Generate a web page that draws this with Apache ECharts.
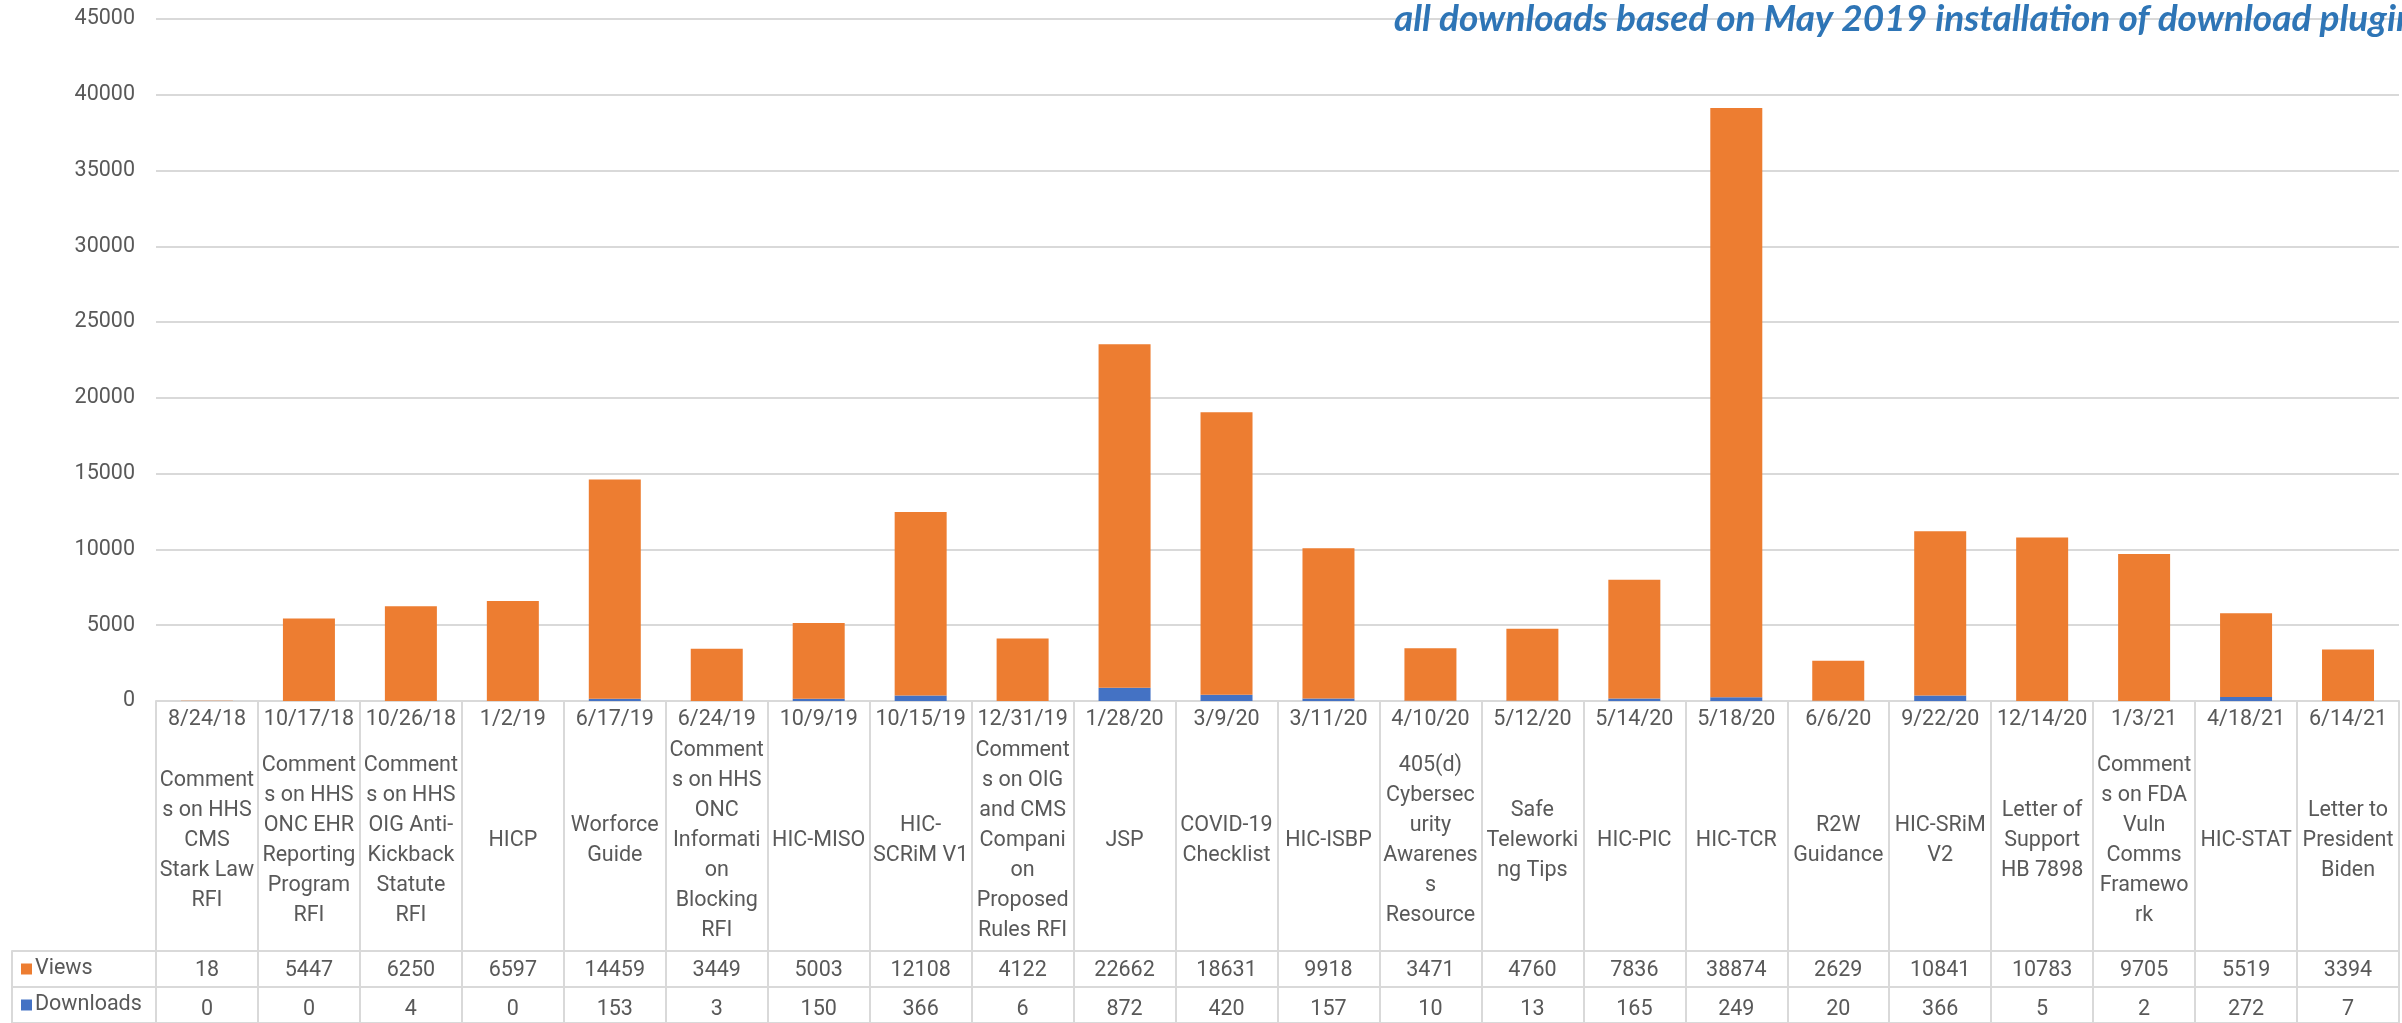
<!DOCTYPE html>
<html><head><meta charset="utf-8">
<script src="https://cdn.jsdelivr.net/npm/echarts@6/dist/echarts.min.js"></script>
<style>html,body{margin:0;padding:0;background:#fff}#c{width:2402px;height:1023px}</style>
</head><body><div id="c"></div>
<script>
const dates = ['8/24/18','10/17/18','10/26/18','1/2/19','6/17/19','6/24/19','10/9/19','10/15/19','12/31/19','1/28/20','3/9/20','3/11/20','4/10/20','5/12/20','5/14/20','5/18/20','6/6/20','9/22/20','12/14/20','1/3/21','4/18/21','6/14/21'];
const names = [
  'Comment\ns on HHS\nCMS\nStark Law\nRFI',
  'Comment\ns on HHS\nONC EHR\nReporting\nProgram\nRFI',
  'Comment\ns on HHS\nOIG Anti-\nKickback\nStatute\nRFI',
  'HICP',
  'Worforce\nGuide',
  'Comment\ns on HHS\nONC\nInformati\non\nBlocking\nRFI',
  'HIC-MISO',
  'HIC-\nSCRiM V1',
  'Comment\ns on OIG\nand CMS\nCompani\non\nProposed\nRules RFI',
  'JSP',
  'COVID-19\nChecklist',
  'HIC-ISBP',
  '405(d)\nCybersec\nurity\nAwarenes\ns\nResource',
  'Safe\nTeleworki\nng Tips',
  'HIC-PIC',
  'HIC-TCR',
  'R2W\nGuidance',
  'HIC-SRiM\nV2',
  'Letter of\nSupport\nHB 7898',
  'Comment\ns on FDA\nVuln\nComms\nFramewo\nrk',
  'HIC-STAT',
  'Letter to\nPresident\nBiden'
];
const views = [18,5447,6250,6597,14459,3449,5003,12108,4122,22662,18631,9918,3471,4760,7836,38874,2629,10841,10783,9705,5519,3394];
const downloads = [0,0,4,0,153,3,150,366,6,872,420,157,10,13,165,249,20,366,5,2,272,7];
const rowNames = ['Views','Downloads'];
const titleText = 'all downloads based on May 2019 installation of download plugin';

const FONT = 'Roboto';
const TXT = '#595959';
const LINE = '#D9D9D9';
const ORANGE = '#ED7D31';
const BLUE = '#4472C4';
const L = 156, R = 3;
const txt = {color: TXT, fontSize: 21.5, fontFamily: FONT};

const chart = echarts.init(document.getElementById('c'));
chart.setOption({
  animation: false,
  backgroundColor: '#fff',
  title: {
    text: titleText, left: 1394, top: 1, padding: 0,
    textStyle: {color: '#2E75B6', fontStyle: 'italic', fontWeight: 'bold', fontSize: 37, fontFamily: 'Lato'}
  },
  grid: [
    {left: L, right: R, top: 19, height: 682},
    {left: L, right: R, top: 701, height: 250},
    {left: L, right: R, top: 951, height: 78},
    {left: 12, width: 144, top: 951, height: 78}
  ],
  xAxis: [
    {gridIndex: 0, type: 'category', data: dates,
     axisLine: {lineStyle: {color: LINE, width: 2}}, axisTick: {show: false},
     axisLabel: Object.assign({interval: 0, margin: 8}, txt)},
    {gridIndex: 1, type: 'category', data: names, position: 'top',
     axisLine: {show: false}, axisTick: {show: false},
     splitLine: {show: true, interval: 0, lineStyle: {color: LINE, width: 2}},
     axisLabel: Object.assign({interval: 0, margin: -140, verticalAlign: 'middle', lineHeight: 30}, txt)},
    {gridIndex: 2, type: 'category', data: names, position: 'top',
     axisLine: {show: true, lineStyle: {color: LINE, width: 2}}, axisTick: {show: false},
     splitLine: {show: true, interval: 0, lineStyle: {color: LINE, width: 2}},
     axisLabel: Object.assign({interval: 0, margin: -19.5, verticalAlign: 'middle', formatter: (v, i) => String(views[i])}, txt)},
    {gridIndex: 2, type: 'category', data: names, position: 'top',
     axisLine: {show: false}, axisTick: {show: false},
     axisLabel: Object.assign({interval: 0, margin: -58.5, verticalAlign: 'middle', formatter: (v, i) => String(downloads[i])}, txt)},
    {gridIndex: 3, type: 'value', show: false, min: 0, max: 1}
  ],
  yAxis: [
    {gridIndex: 0, type: 'value', min: 0, max: 45000, interval: 5000,
     axisLine: {show: false}, axisTick: {show: false},
     splitLine: {lineStyle: {color: LINE, width: 2}},
     axisLabel: Object.assign({margin: 21, formatter: v => String(v)}, txt)},
    {gridIndex: 1, type: 'value', show: false, min: 0, max: 1},
    {gridIndex: 2, type: 'category', data: rowNames, inverse: true,
     axisLine: {show: false}, axisTick: {show: false}, axisLabel: {show: false},
     splitLine: {show: true, interval: 0, lineStyle: {color: LINE, width: 2}}},
    {gridIndex: 3, type: 'category', data: rowNames, inverse: true,
     axisLine: {show: true, lineStyle: {color: LINE, width: 2}}, axisTick: {show: false},
     splitLine: {show: true, interval: 0, lineStyle: {color: LINE, width: 2}},
     axisLabel: Object.assign({inside: true, margin: 9,
       formatter: v => (v === 'Views' ? '{o|}' : '{b|}') + '{t|' + v + '}',
       rich: {
         o: {backgroundColor: ORANGE, width: 11, height: 11},
         b: {backgroundColor: BLUE, width: 11, height: 11},
         t: {color: TXT, fontSize: 21.5, fontFamily: FONT, padding: [0, 0, 0, 3]}
       }}, txt)}
  ],
  series: [
    {name: 'Downloads', type: 'bar', stack: 's', xAxisIndex: 0, yAxisIndex: 0, data: downloads,
     barWidth: '51%', itemStyle: {color: BLUE}},
    {name: 'Views', type: 'bar', stack: 's', xAxisIndex: 0, yAxisIndex: 0, data: views,
     barWidth: '51%', itemStyle: {color: ORANGE}}
  ]
});
</script>
</body></html>
